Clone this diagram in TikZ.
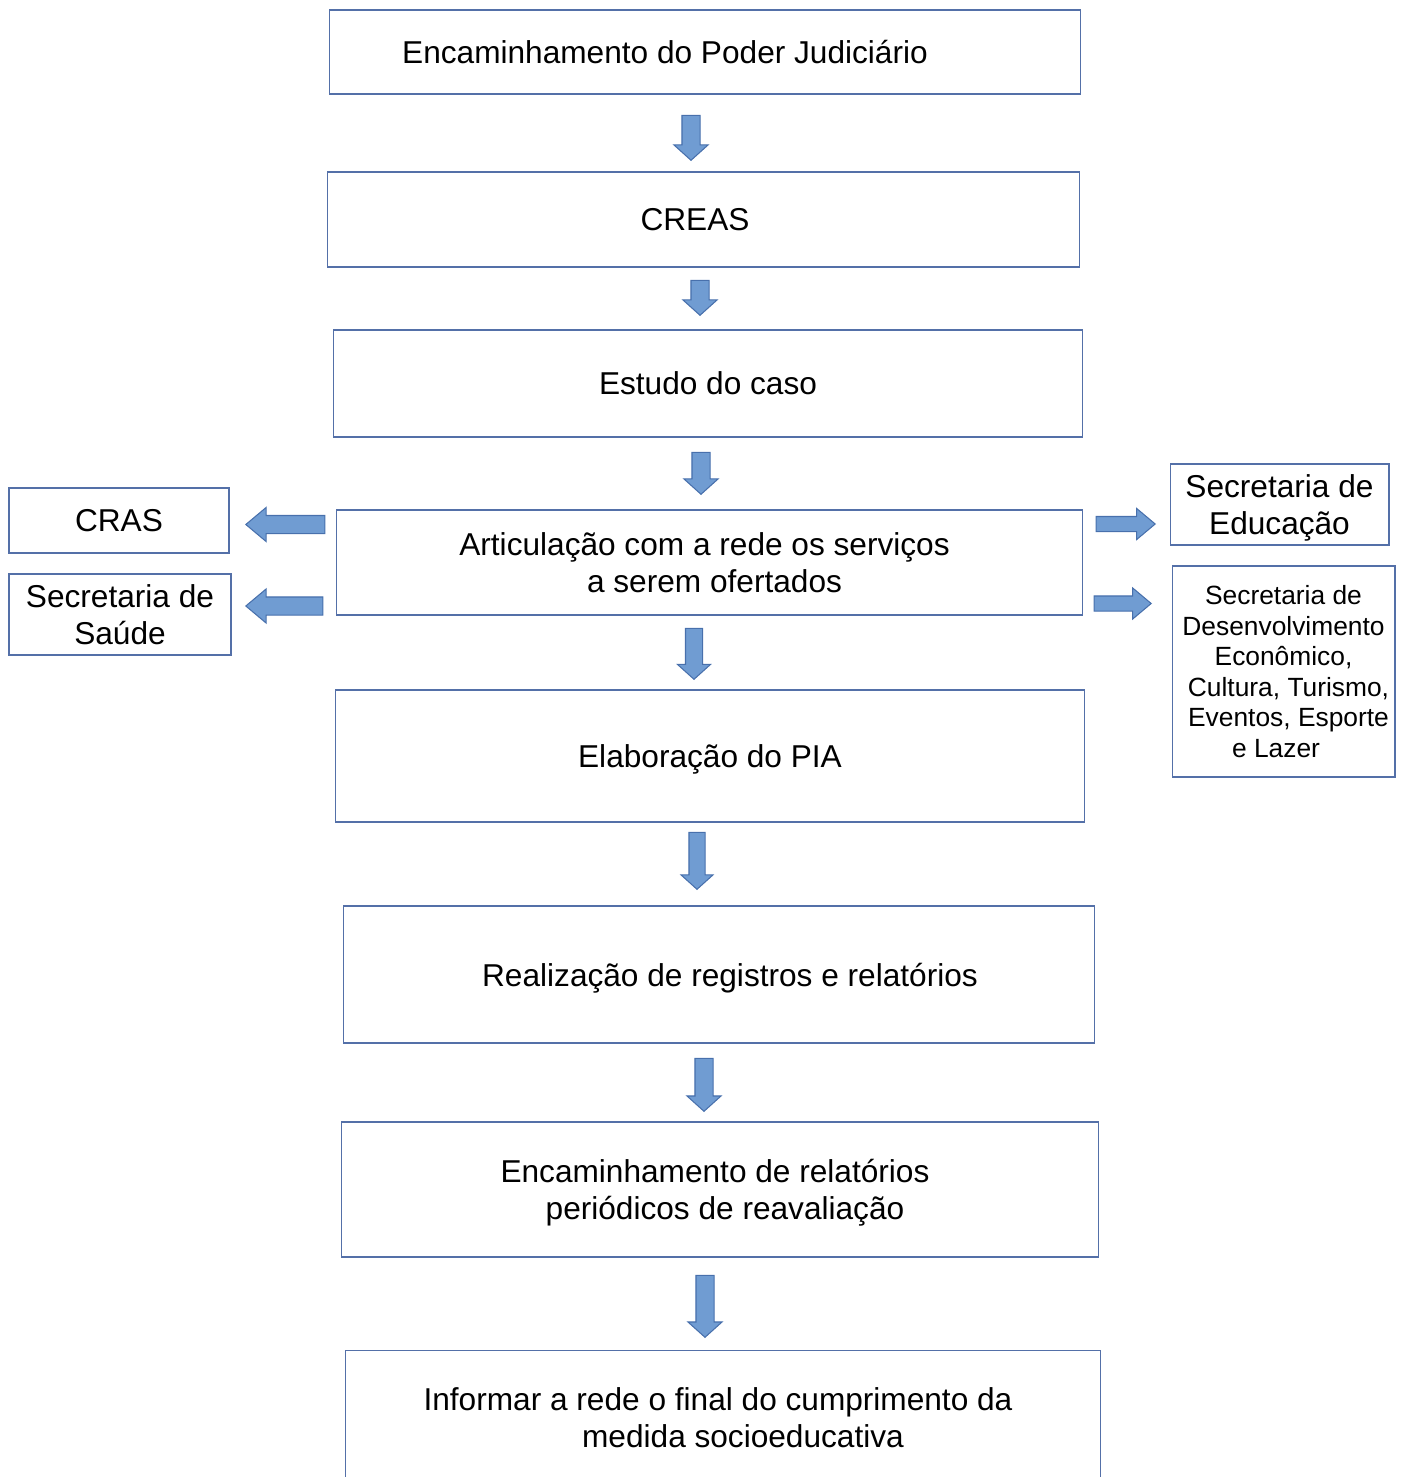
\documentclass[tikz,border=0pt]{standalone}
\usepackage{fontspec}
\setmainfont{Liberation Sans}
\usetikzlibrary{shapes.arrows}

\definecolor{boxline}{RGB}{84,112,168}
\definecolor{arrowfill}{RGB}{112,156,210}
\definecolor{arrowline}{RGB}{72,112,172}

\begin{document}
\begin{tikzpicture}[x=0.02cm, y=-0.02cm,
        stepbox/.style={rectangle, draw=boxline, line width=0.6pt, inner sep=0pt, text depth=0pt, align=center, font=\fontsize{18}{20.7}\selectfont},
        smallbox/.style={stepbox, font=\fontsize{15}{17.4}\selectfont},
        blockarrow/.style={single arrow, draw=arrowline, fill=arrowfill, line width=0.6pt, inner xsep=0pt, inner ysep=0.17cm, single arrow head extend=0.16cm, minimum width=0.66cm},
        downarrow/.style={blockarrow, single arrow tip angle=96, rotate=-90, anchor=tip},
        sidearrow/.style={blockarrow, single arrow tip angle=80, anchor=tip}]

        \clip (0,0) rectangle (1405,1477);

        % main steps
        \node[stepbox, minimum width=15.04cm, minimum height=1.68cm] (judic) at (705,52) {Encaminhamento do Poder Judiciário\hspace*{1.6cm}};
        \node[stepbox, minimum width=15.06cm, minimum height=1.9cm] (creas) at (703.5,219.5) {CREAS\hspace*{0.34cm}};
        \node[stepbox, minimum width=15.0cm, minimum height=2.14cm] (estudo) at (708,383.5) {Estudo do caso};
        \node[stepbox, minimum width=14.94cm, minimum height=2.1cm] (artic) at (709.5,562.5) {Articulação com a rede os serviços\hspace*{0.2cm}\\\hspace*{0.2cm}a serem ofertados};
        \node[stepbox, minimum width=15.0cm, minimum height=2.64cm] (pia) at (710,756) {Elaboração do PIA};
        \node[stepbox, minimum width=15.04cm, minimum height=2.74cm] (regist) at (719,974.5) {\hspace*{0.44cm}Realização de registros e relatórios};
        \node[stepbox, minimum width=15.16cm, minimum height=2.7cm] (relat) at (720,1189.5) {Encaminhamento de relatórios\hspace*{0.2cm}\\\hspace*{0.2cm}periódicos de reavaliação};
        \node[stepbox, minimum width=15.12cm, minimum height=2.7cm] (final) at (723,1417.5) {Informar a rede o final do cumprimento da\hspace*{0.2cm}\\\hspace*{0.8cm}medida socioeducativa};

        % network
        \node[stepbox, minimum width=4.4cm, minimum height=1.3cm] (cras) at (119,520.5) {CRAS};
        \node[stepbox, minimum width=4.44cm, minimum height=1.62cm] (saude) at (120,614.5) {Secretaria de\\Saúde};
        \node[stepbox, minimum width=4.38cm, minimum height=1.62cm] (educ) at (1279.5,504.5) {Secretaria de\\Educação};
        \node[smallbox, minimum width=4.46cm, minimum height=4.22cm] (desenv) at (1283.5,671.5) {Secretaria de\\Desenvolvimento\\Econômico,\\\hspace*{0.2cm}Cultura, Turismo,\\\hspace*{0.2cm}Eventos, Esporte\\e Lazer\hspace*{0.3cm}};

        % arrows down
        \node[downarrow, minimum height=0.9cm] (a1) at (691,161) {};
        \node[downarrow, minimum height=0.7cm, minimum width=0.62cm] (a2) at (700,316) {};
        \node[downarrow, minimum height=0.84cm] (a3) at (701,495) {};
        \node[downarrow, minimum height=1.02cm, minimum width=0.58cm, inner ysep=0.16cm] (a4) at (694,680) {};
        \node[downarrow, minimum height=1.14cm, minimum width=0.56cm, inner ysep=0.15cm] (a5) at (697,890) {};
        \node[downarrow, minimum height=1.06cm, minimum width=0.68cm] (a6) at (704,1112) {};
        \node[downarrow, minimum height=1.24cm] (a7) at (705,1338) {};

        % arrows to the sides
        \node[sidearrow, rotate=180, minimum height=1.58cm] (l1) at (245,524.5) {};
        \node[sidearrow, rotate=180, minimum height=1.54cm, minimum width=0.64cm] (l2) at (245,606) {};
        \node[sidearrow, minimum height=1.18cm, minimum width=0.56cm, inner ysep=0.14cm] (r1) at (1156,524) {};
        \node[sidearrow, minimum height=1.14cm, minimum width=0.58cm, inner ysep=0.14cm] (r2) at (1152,603.5) {};

\end{tikzpicture}
\end{document}
